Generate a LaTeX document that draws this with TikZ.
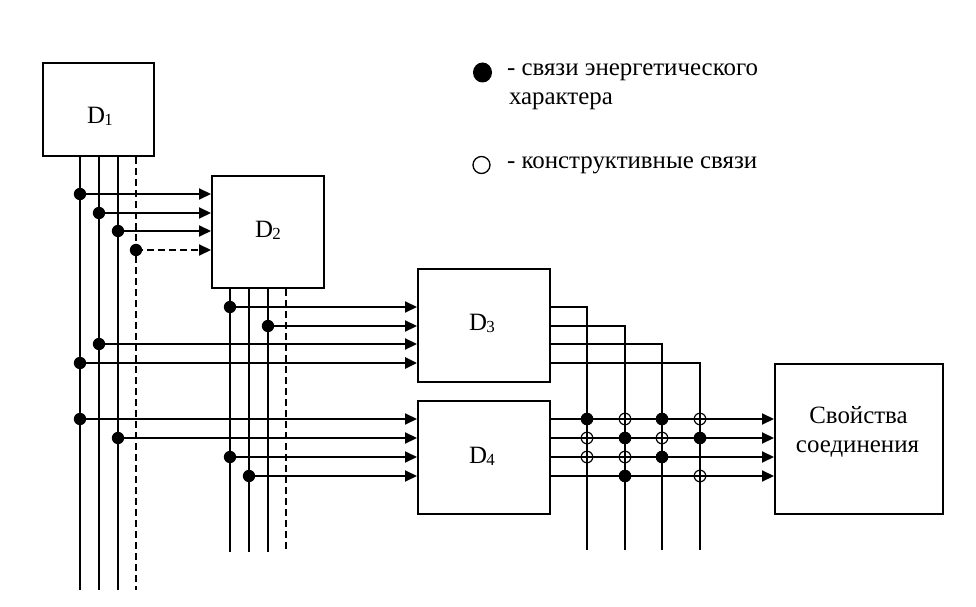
\documentclass[tikz,border=0pt]{standalone}
\usepackage{fontspec}
\setmainfont{Liberation Serif}
\usetikzlibrary{arrows.meta}
\newcommand{\Dsub}[1]{D\kern-0.5pt\raisebox{-2bp}{\fontsize{17}{17}\selectfont #1}}
\begin{document}
\begin{tikzpicture}[x=1bp,y=-1bp,line width=2bp,
  box/.style={draw,line width=2bp,inner sep=0pt},
  lbl/.style={anchor=base west,inner sep=0pt,font=\fontsize{25}{29}\selectfont},
  clbl/.style={anchor=base,inner sep=0pt,font=\fontsize{25}{29}\selectfont},
  arr/.style={-{Triangle[length=12bp,width=11bp]}},
  dashln/.style={dash pattern=on 7bp off 4bp},
  fdot/.style={fill=black,draw=none},
  odot/.style={draw=black,line width=1.2bp},
  legtext/.style={anchor=base west,inner sep=0pt,font=\fontsize{25}{29}\selectfont}]
\useasboundingbox (0,0) rectangle (976,607);

% boxes
\node[box,minimum width=111bp,minimum height=93bp] (D1) at (98.5,109.5) {};
\node[box,minimum width=112bp,minimum height=112bp] (D2) at (268,232) {};
\node[box,minimum width=132bp,minimum height=113bp] (D3) at (484,325.5) {};
\node[box,minimum width=132bp,minimum height=113bp] (D4) at (484,457.5) {};
\node[box,minimum width=168bp,minimum height=150bp] (S) at (859,439) {};

% box labels
\node[lbl] (D1t) at (86,124) {\Dsub{1}};
\node[lbl] (D2t) at (254,238) {\Dsub{2}};
\node[lbl] (D3t) at (468,330) {\Dsub{3}};
\node[lbl] (D4t) at (468,463) {\Dsub{4}};
\node[clbl] (St1) at (858.5,423) {Свойства};
\node[clbl] (St2) at (857.5,452) {соединения};

% D1 output buses
\coordinate (a1) at (80,590);
\coordinate (a2) at (99,590);
\coordinate (a3) at (118,590);
\coordinate (a4) at (136,590);
\draw (a1 |- D1.south) -- (a1);
\draw (a2 |- D1.south) -- (a2);
\draw (a3 |- D1.south) -- (a3);
\draw[dashln] (a4 |- D1.south) -- (a4);

% D2 output buses
\coordinate (b1) at (230,552);
\coordinate (b2) at (249,552);
\coordinate (b3) at (268,552);
\coordinate (b4) at (286,552);
\draw (b1 |- D2.south) -- (b1);
\draw (b2 |- D2.south) -- (b2);
\draw (b3 |- D2.south) -- (b3);
\draw[dashln] (b4 |- D2.south) -- (b4);

% taps into D2
\coordinate (p21) at (80,194);
\coordinate (p22) at (99,213);
\coordinate (p23) at (118,231);
\coordinate (p24) at (136,250);
\draw[arr] (p21) -- (p21 -| D2.west);
\draw[arr] (p22) -- (p22 -| D2.west);
\draw[arr] (p23) -- (p23 -| D2.west);
\draw[arr,dashln] (p24) -- (p24 -| D2.west);

% taps into D3
\coordinate (p31) at (230,307);
\coordinate (p32) at (268,326);
\coordinate (p33) at (99,344);
\coordinate (p34) at (80,363);
\draw[arr] (p31) -- (p31 -| D3.west);
\draw[arr] (p32) -- (p32 -| D3.west);
\draw[arr] (p33) -- (p33 -| D3.west);
\draw[arr,line width=2.8bp] (p34) -- (p34 -| D3.west);

% taps into D4
\coordinate (p41) at (80,419);
\coordinate (p42) at (118,438);
\coordinate (p43) at (230,457);
\coordinate (p44) at (249,476);
\draw[arr] (p41) -- (p41 -| D4.west);
\draw[arr] (p42) -- (p42 -| D4.west);
\draw[arr] (p43) -- (p43 -| D4.west);
\draw[arr] (p44) -- (p44 -| D4.west);

\foreach \p in {p21,p22,p23,p24,p31,p32,p33,p34,p41,p42,p43,p44}
  \fill[fdot] (\p) circle (6.2bp);

% D3 outputs: right then down
\coordinate (c1) at (587,550);
\coordinate (c2) at (625,550);
\coordinate (c3) at (662,550);
\coordinate (c4) at (700,550);
\draw (p31 -| D3.east) -| (c1);
\draw (p32 -| D3.east) -| (c2);
\draw (p33 -| D3.east) -| (c3);
\draw (p34 -| D3.east) -| (c4);

% D4 outputs into S
\draw[arr] (p41 -| D4.east) -- (p41 -| S.west);
\draw[arr] (p42 -| D4.east) -- (p42 -| S.west);
\draw[arr] (p43 -| D4.east) -- (p43 -| S.west);
\draw[arr] (p44 -| D4.east) -- (p44 -| S.west);

% intersections
\fill[fdot] (c1 |- p41) circle (6.3bp);
\draw[odot] (c2 |- p41) circle (5.8bp);
\fill[fdot] (c3 |- p41) circle (6.3bp);
\draw[odot] (c4 |- p41) circle (5.8bp);
\draw[odot] (c1 |- p42) circle (5.8bp);
\fill[fdot] (c2 |- p42) circle (6.3bp);
\draw[odot] (c3 |- p42) circle (5.8bp);
\fill[fdot] (c4 |- p42) circle (6.3bp);
\draw[odot] (c1 |- p43) circle (5.8bp);
\draw[odot] (c2 |- p43) circle (5.8bp);
\fill[fdot] (c3 |- p43) circle (6.3bp);
\fill[fdot] (c2 |- p44) circle (6.3bp);
\draw[odot] (c4 |- p44) circle (5.8bp);

% legend
\fill[fdot] (482.5,72.5) ellipse [x radius=9.5bp,y radius=10bp];
\node[legtext] (L1) at (506,76) {- связи энергетического};
\node[legtext] (L2) at (508,105) {характера};
\draw[odot,line width=1.3bp] (481.5,165) circle (8.5bp);
\node[legtext] (L3) at (506,169) {- конструктивные связи};
\end{tikzpicture}
\end{document}
